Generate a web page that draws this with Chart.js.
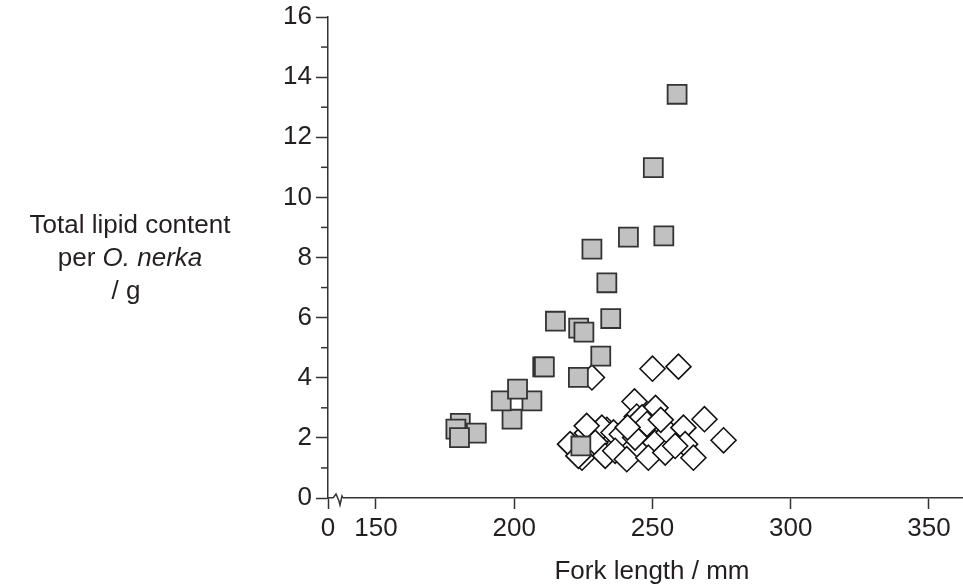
<!DOCTYPE html>
<html>
<head>
<meta charset="utf-8">
<script src="https://cdn.jsdelivr.net/npm/chart.js@4.4.1/dist/chart.umd.min.js"></script>
<style>
  html, body { margin: 0; padding: 0; background: #fff; overflow: hidden; }
  #wrap { width: 963px; height: 586px; position: relative; }
  canvas { display: block; }
</style>
</head>
<body>
<div id="wrap"><canvas id="lipidChart" width="963" height="586"></canvas></div>
<script>
// Fork length (mm) and total lipid (g)
const squareLength = [180.5, 178.9, 186.3, 180.2, 199.2, 195.3, 206.4, 201.2, 210.3, 210.9, 223.2, 231.3,
  214.9, 223.3, 225.2, 234.9, 233.5, 228.1, 241.3, 254.1, 250.3, 258.9, 224.1];
const squareLipid = [2.48, 2.29, 2.16, 2.01, 2.62, 3.23, 3.23, 3.62, 4.36, 4.36, 4.01, 4.72,
  5.88, 5.65, 5.52, 5.97, 7.16, 8.28, 8.68, 8.72, 10.99, 13.43, 1.73];

const diamondLength = [228.1, 250.0, 259.4, 243.5, 251.1, 268.8, 275.7, 244.3, 246.2, 248.0,
  226.3, 233.5, 231.7, 235.9, 238.9, 220.9, 220.2, 224.5, 223.2, 229.3, 232.9, 236.5, 240.7,
  243.7, 251.0, 248.5, 254.6, 255.8, 261.2, 261.8, 264.8, 258.2, 226.2, 241.0, 253.0];
const diamondLipid = [4.01, 4.30, 4.37, 3.21, 3.00, 2.62, 1.92, 2.71, 2.68, 2.46,
  2.16, 2.27, 2.34, 2.18, 2.12, 1.73, 1.79, 1.34, 1.40, 1.84, 1.40, 1.57, 1.29,
  2.01, 1.84, 1.34, 1.51, 2.18, 2.34, 1.79, 1.34, 1.73, 2.40, 2.35, 2.60];

// axis: broken x axis, the "0" sits at the left end
const xStart = 132.65;
const xEnd = 362.3;
const xTicks = [150, 200, 250, 300, 350];
const yMinorTicks = [1, 3, 5, 7, 9, 11, 13, 15];

const ink = "#231f20";
const font = "'Liberation Sans', Arial, sans-serif";
const fontSize = 26;

function toPoints(xs, ys) {
  return xs.map((x, i) => ({ x: x, y: ys[i] }));
}

// extra drawing: minor ticks, axis break, axis titles
const extras = {
  id: "extras",
  afterDraw(chart) {
    const ctx = chart.ctx;
    const area = chart.chartArea;
    const yScale = chart.scales.y;
    const axisY = area.bottom;

    ctx.save();
    ctx.strokeStyle = "#333";
    ctx.lineWidth = 1.5;
    yMinorTicks.forEach((v) => {
      const py = yScale.getPixelForValue(v);
      ctx.beginPath();
      ctx.moveTo(area.left - 7, py);
      ctx.lineTo(area.left, py);
      ctx.stroke();
    });

    // break symbol
    const bx = area.left + 5;
    ctx.fillStyle = "#fff";
    ctx.fillRect(bx, axisY - 2, 10, 4);
    ctx.beginPath();
    ctx.moveTo(bx, axisY);
    ctx.lineTo(bx + 3, axisY - 4);
    ctx.lineTo(bx + 6, axisY + 3);
    ctx.lineTo(bx + 7, axisY + 7);
    ctx.lineTo(bx + 9, axisY - 2);
    ctx.lineTo(bx + 10, axisY);
    ctx.stroke();

    // titles
    ctx.fillStyle = ink;
    ctx.textAlign = "center";
    ctx.textBaseline = "alphabetic";
    ctx.font = fontSize + "px " + font;
    ctx.fillText("Fork length / mm", 652, 579);

    const cx = 130;
    ctx.fillText("Total lipid content", cx, 233);
    const a = "per ";
    const b = "O. nerka";
    const wa = ctx.measureText(a).width;
    ctx.font = "italic " + fontSize + "px " + font;
    const wb = ctx.measureText(b).width;
    const start = cx - (wa + wb) / 2;
    ctx.textAlign = "left";
    ctx.font = fontSize + "px " + font;
    ctx.fillText(a, start, 266);
    ctx.font = "italic " + fontSize + "px " + font;
    ctx.fillText(b, start + wa, 266);
    ctx.font = fontSize + "px " + font;
    ctx.textAlign = "center";
    ctx.fillText("/ g", cx - 4, 299);
    ctx.restore();
  },
};

const ctx = document.getElementById("lipidChart").getContext("2d");
new Chart(ctx, {
  type: "scatter",
  data: {
    datasets: [
      {
        label: "squares",
        data: toPoints(squareLength, squareLipid),
        pointStyle: "rect",
        pointRadius: 13.4,
        pointHoverRadius: 13.4,
        backgroundColor: "#c1c1c1",
        borderColor: "#333",
        borderWidth: 1.8,
      },
      {
        label: "diamonds",
        data: toPoints(diamondLength, diamondLipid),
        pointStyle: "rectRot",
        pointRadius: 12.5,
        pointHoverRadius: 12.5,
        backgroundColor: "#fff",
        borderColor: "#111",
        borderWidth: 1.6,
      },
    ],
  },
  options: {
    responsive: false,
    animation: false,
    events: [],
    layout: { autoPadding: false, padding: { left: 0, right: 0, top: 17, bottom: 0 } },
    plugins: { legend: { display: false }, tooltip: { enabled: false } },
    scales: {
      x: {
        type: "linear",
        min: xStart,
        max: xEnd,
        afterBuildTicks(scale) {
          scale.ticks = [{ value: xStart }].concat(xTicks.map((v) => ({ value: v })));
        },
        afterFit(scale) {
          scale.height = 88;
          scale.paddingLeft = 0;
          scale.paddingRight = 0;
        },
        grid: { drawOnChartArea: false, tickLength: 11, tickWidth: 1.5, tickColor: "#333" },
        border: { color: "#333", width: 1.5 },
        ticks: {
          color: ink,
          font: { family: font, size: fontSize },
          padding: 4,
          maxRotation: 0,
          autoSkip: false,
          callback: (v) => (v === xStart ? "0" : v),
        },
      },
      y: {
        min: 0,
        max: 16,
        afterFit(scale) {
          scale.width = 328;
          scale.paddingTop = 0;
          scale.paddingBottom = 0;
        },
        grid: { drawOnChartArea: false, tickLength: 12, tickWidth: 1.5, tickColor: "#333" },
        border: { color: "#333", width: 1.5 },
        ticks: {
          stepSize: 2,
          color: ink,
          font: { family: font, size: fontSize },
          padding: 4,
        },
      },
    },
  },
  plugins: [extras],
});
</script>
</body>
</html>
